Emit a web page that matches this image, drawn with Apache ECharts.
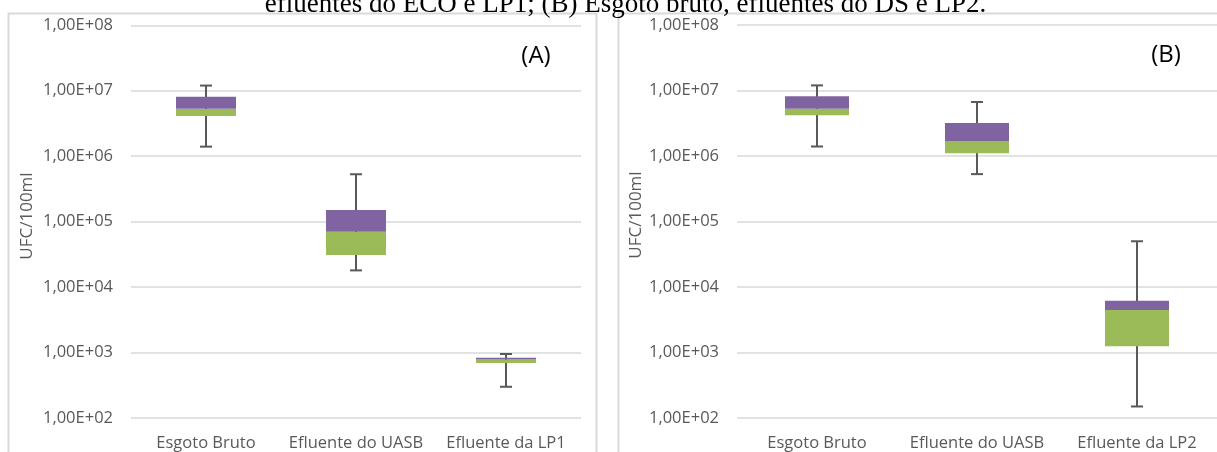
<!DOCTYPE html>
<html>
<head>
<meta charset="utf-8">
<script src="https://cdn.jsdelivr.net/npm/echarts@6/dist/echarts.min.js"></script>
<style>
html,body{margin:0;padding:0;background:#fff;}
#chart{width:1217px;height:452px;}
</style>
</head>
<body>
<div id="chart"></div>
<script>
// ---- data ----
const titleText = 'efluentes do ECO e LP1; (B) Esgoto bruto, efluentes do DS e LP2.';
const yAxisName = 'UFC/100ml';
const yTickLabels = ['1,00E+02','1,00E+03','1,00E+04','1,00E+05','1,00E+06','1,00E+07','1,00E+08'];

const categoriesA = ['Esgoto Bruto', 'Efluente do UASB', 'Efluente da LP1'];
const minA    = [1.4e6, 1.8e4, 300];
const q1A     = [4.1e6, 3.1e4, 690];
const medianA = [5.3e6, 7.0e4, 780];
const q3A     = [8.1e6, 1.5e5, 830];
const maxA    = [1.2e7, 5.3e5, 950];

const categoriesB = ['Esgoto Bruto', 'Efluente do UASB', 'Efluente da LP2'];
const minB    = [1.4e6, 5.3e5, 150];
const q1B     = [4.2e6, 1.1e6, 1250];
const medianB = [5.3e6, 1.7e6, 4450];
const q3B     = [8.2e6, 3.2e6, 6200];
const maxB    = [1.2e7, 6.7e6, 5.0e4];

// ---- style ----
const FONT = '"Open Sans", Lato, sans-serif';
const LABEL_COLOR = '#595959';
const GRID_COLOR = '#d9d9d9';
const GREEN = '#9bbb59';
const PURPLE = '#8064a2';
const WHISKER = '#595959';

function boxData(cats, mn, q1, md, q3, mx) {
  return cats.map((c, i) => [i, mn[i], q1[i], md[i], q3[i], mx[i]]);
}

function renderBox(params, api) {
  const x = api.value(0);
  const pMin = api.coord([x, api.value(1)]);
  const pQ1 = api.coord([x, api.value(2)]);
  const pMed = api.coord([x, api.value(3)]);
  const pQ3 = api.coord([x, api.value(4)]);
  const pMax = api.coord([x, api.value(5)]);
  const cs = params.coordSys;
  const band = cs.width / 3;
  const bw = band * 0.4;
  const cx = pMed[0];
  const cap = 6;
  const lineStyle = { stroke: WHISKER, lineWidth: 2 };
  return {
    type: 'group',
    children: [
      { type: 'line', shape: { x1: cx, y1: pMax[1], x2: cx, y2: pMin[1] }, style: lineStyle },
      { type: 'line', shape: { x1: cx - cap, y1: pMax[1], x2: cx + cap, y2: pMax[1] }, style: lineStyle },
      { type: 'line', shape: { x1: cx - cap, y1: pMin[1], x2: cx + cap, y2: pMin[1] }, style: lineStyle },
      { type: 'rect', shape: { x: cx - bw / 2, y: pMed[1], width: bw, height: pQ1[1] - pMed[1] }, style: { fill: GREEN } },
      { type: 'rect', shape: { x: cx - bw / 2, y: pQ3[1], width: bw, height: pMed[1] - pQ3[1] }, style: { fill: PURPLE } }
    ]
  };
}

function yAxisCfg(gridIndex) {
  return {
    type: 'log', logBase: 10, gridIndex: gridIndex,
    min: 100, max: 1e8, splitNumber: 6,
    axisLine: { show: false }, axisTick: { show: false },
    axisLabel: {
      color: LABEL_COLOR, fontFamily: FONT, fontSize: 16.5, margin: 18,
      formatter: v => yTickLabels[Math.round(Math.log10(v)) - 2]
    },
    splitLine: { show: true, lineStyle: { color: GRID_COLOR, width: 1.5 } }
  };
}

function xAxisCfg(gridIndex, cats) {
  return {
    type: 'category', gridIndex: gridIndex, data: cats,
    axisLine: { show: false }, axisTick: { show: false },
    axisLabel: { color: LABEL_COLOR, fontFamily: FONT, fontSize: 16.5, margin: 17, interval: 0 },
    splitLine: { show: false }
  };
}

const chart = echarts.init(document.getElementById('chart'), null, { renderer: 'canvas' });
chart.setOption({
  backgroundColor: '#ffffff',
  animation: false,
  grid: [
    { left: 131, width: 450, top: 25.3, height: 396 },
    { left: 737, width: 480, top: 25.1, height: 393.6 }
  ],
  xAxis: [xAxisCfg(0, categoriesA), xAxisCfg(1, categoriesB)],
  yAxis: [yAxisCfg(0), yAxisCfg(1)],
  graphic: [
    { type: 'rect', z: -10, shape: { x: 8.5, y: 13.5, width: 588, height: 460 }, style: { fill: 'none', stroke: '#d9d9d9', lineWidth: 2 } },
    { type: 'rect', z: -10, shape: { x: 618.5, y: 13.5, width: 620, height: 460 }, style: { fill: 'none', stroke: '#d9d9d9', lineWidth: 2 } },
    { type: 'text', x: 625.5, y: 5, style: { text: titleText, font: '27px "Liberation Serif", "Times New Roman", serif', fill: '#000', textAlign: 'center', textVerticalAlign: 'middle' } },
    { type: 'text', x: 536, y: 56, style: { text: '(A)', font: '24px ' + FONT, fill: '#000', textAlign: 'center', textVerticalAlign: 'middle' } },
    { type: 'text', x: 1166, y: 55, style: { text: '(B)', font: '24px ' + FONT, fill: '#000', textAlign: 'center', textVerticalAlign: 'middle' } },
    { type: 'text', x: 26.7, y: 216, rotation: Math.PI / 2, style: { text: yAxisName, font: '17px ' + FONT, fill: LABEL_COLOR, textAlign: 'center', textVerticalAlign: 'middle' } },
    { type: 'text', x: 636, y: 215, rotation: Math.PI / 2, style: { text: yAxisName, font: '17px ' + FONT, fill: LABEL_COLOR, textAlign: 'center', textVerticalAlign: 'middle' } }
  ],
  series: [
    { type: 'custom', xAxisIndex: 0, yAxisIndex: 0, renderItem: renderBox,
      encode: { x: 0, y: [1, 2, 3, 4, 5] },
      data: boxData(categoriesA, minA, q1A, medianA, q3A, maxA) },
    { type: 'custom', xAxisIndex: 1, yAxisIndex: 1, renderItem: renderBox,
      encode: { x: 0, y: [1, 2, 3, 4, 5] },
      data: boxData(categoriesB, minB, q1B, medianB, q3B, maxB) }
  ]
});
</script>
</body>
</html>
